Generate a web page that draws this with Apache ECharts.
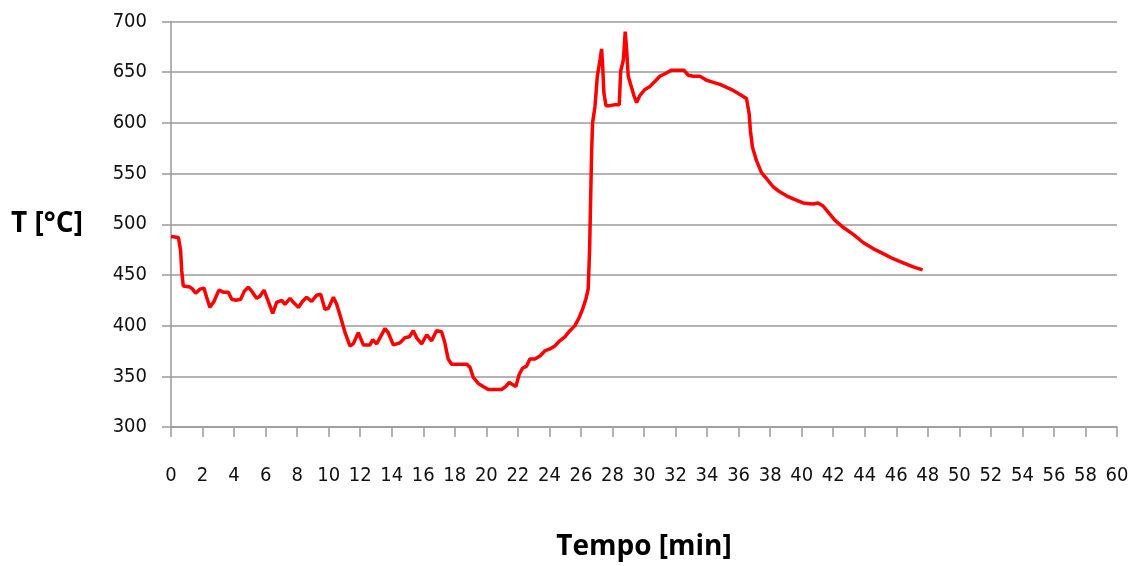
<!DOCTYPE html>
<html>
<head>
<meta charset="utf-8">
<script src="https://cdn.jsdelivr.net/npm/echarts@6/dist/echarts.min.js"></script>
<style>
  html, body { margin: 0; padding: 0; background: #fff; }
  #chart { width: 1133px; height: 566px; }
</style>
</head>
<body>
<div id="chart"></div>
<script>
// Elapsed time [min]
const tempo = [
  0, 0.47, 0.61, 0.68, 0.78, 1.2, 1.37, 1.56, 1.84, 2.09, 2.26, 2.47, 2.73, 3.04, 3.32, 3.64, 3.85,
  4.12, 4.42, 4.65, 4.9, 5.12, 5.43, 5.64, 5.9, 6.17, 6.45, 6.7, 7.02, 7.23, 7.55, 7.76, 8.08, 8.35,
  8.6, 8.92, 9.24, 9.49, 9.77, 9.98, 10.3, 10.51, 10.82, 11.04, 11.35, 11.56, 11.88, 12.2, 12.62,
  12.79, 13.04, 13.25, 13.57, 13.78, 14.1, 14.52, 14.84, 15.12, 15.37, 15.58, 15.9, 16.22, 16.53,
  16.84, 17.16, 17.37, 17.58, 17.79, 18.32, 18.75, 18.96, 19.17, 19.49, 19.8, 20.12, 20.54, 20.97,
  21.24, 21.45, 21.66, 21.87, 22.09, 22.3, 22.55, 22.76, 23.08, 23.4, 23.71, 24.03, 24.35, 24.66,
  24.98, 25.3, 25.62, 25.89, 26.1, 26.31, 26.46, 26.55, 26.68, 26.74, 26.89, 27.04, 27.21, 27.31,
  27.38, 27.46, 27.59, 27.84, 28.16, 28.43, 28.52, 28.69, 28.81, 28.9, 29.0, 29.15, 29.36, 29.53,
  29.74, 30.06, 30.38, 30.7, 31.01, 31.39, 31.75, 32.17, 32.53, 32.81, 33.13, 33.55, 33.97, 34.4,
  34.82, 35.24, 35.66, 36.09, 36.5, 36.67, 36.75, 36.88, 37.13, 37.45, 37.77, 38.19, 38.61, 39.04,
  39.46, 40.09, 40.73, 41.04, 41.36, 41.68, 42.1, 42.63, 43.27, 43.9, 44.53, 45.17, 45.8, 46.44,
  47.07, 47.67
];

// Temperature [°C]
const temperatura = [
  488, 487, 474, 454, 439, 438, 436, 432, 436, 437, 428, 418, 424, 435, 433, 433, 426,
  425, 426, 434, 438, 434, 427, 429, 435, 424, 412, 423, 425, 421, 427, 423, 418, 424,
  428, 424, 430, 431, 416, 417, 428, 421, 405, 393, 380, 382, 393, 381, 381,
  386, 382, 388, 397, 393, 381, 383, 388, 389, 395, 388, 382, 391, 385,
  395, 394, 383, 367, 362, 362, 362, 359, 349, 343, 340, 337, 337, 337,
  340, 344, 342, 340, 352, 358, 360, 367, 367, 370, 375, 377, 380, 385,
  389, 395, 400, 408, 416, 426, 436, 475, 573, 600, 616, 646, 662, 673,
  656, 629, 617, 617, 618, 618, 651, 662, 690, 672, 646, 638, 627, 620,
  627, 633, 636, 641, 646, 649, 652, 652, 652, 647, 646, 646, 642, 640,
  638, 635, 632, 628, 624, 609, 592, 576, 563, 551, 545, 537, 532, 528,
  525, 521, 520, 521, 518, 512, 504, 497, 490, 482, 476, 471, 466, 462,
  458, 455
];

// Axis ranges and tick steps
const xTicks = { min: 0, max: 60, step: 2 };
const yTicks = { min: 300, max: 700, step: 50 };

const points = tempo.map((t, i) => [t, temperatura[i]]);

const chart = echarts.init(document.getElementById('chart'), null, { renderer: 'canvas' });

const labelFont = '"Liberation Sans Narrow", "DejaVu Sans Condensed", sans-serif';
const titleFont = '"Open Sans", "Liberation Sans", sans-serif';
const axisGrey = '#9a9a9a';

chart.setOption({
  animation: false,
  backgroundColor: '#ffffff',
  grid: { left: 171, right: 16, top: 21.5, bottom: 138.5 },
  xAxis: {
    type: 'value',
    min: xTicks.min,
    max: xTicks.max,
    interval: xTicks.step,
    name: 'Tempo [min]',
    nameLocation: 'middle',
    nameGap: 106,
    nameTextStyle: { fontFamily: titleFont, fontWeight: 'bold', fontSize: 28, color: '#000' },
    axisLine: { show: true, lineStyle: { color: axisGrey, width: 1.5 } },
    axisTick: { show: true, length: 10, lineStyle: { color: axisGrey, width: 1.5 } },
    axisLabel: { margin: 39, fontFamily: labelFont, fontSize: 20, color: '#111' },
    splitLine: { show: false }
  },
  yAxis: {
    type: 'value',
    min: yTicks.min,
    max: yTicks.max,
    interval: yTicks.step,
    name: 'T [°C]',
    nameLocation: 'middle',
    nameRotate: 0,
    nameGap: 124,
    nameTextStyle: { fontFamily: titleFont, fontWeight: 'bold', fontSize: 28, color: '#000', align: 'center' },
    axisLine: { show: true, lineStyle: { color: axisGrey, width: 1.5 } },
    axisTick: { show: true, length: 9, lineStyle: { color: axisGrey, width: 1.5 } },
    axisLabel: { margin: 24, fontFamily: labelFont, fontSize: 20, color: '#111' },
    splitLine: { show: true, lineStyle: { color: axisGrey, width: 1.5 } }
  },
  series: [{
    type: 'line',
    data: points,
    showSymbol: false,
    symbol: 'none',
    smooth: false,
    lineStyle: { color: '#ff0000', width: 3.5 },
    z: 3
  }]
});
</script>
</body>
</html>
